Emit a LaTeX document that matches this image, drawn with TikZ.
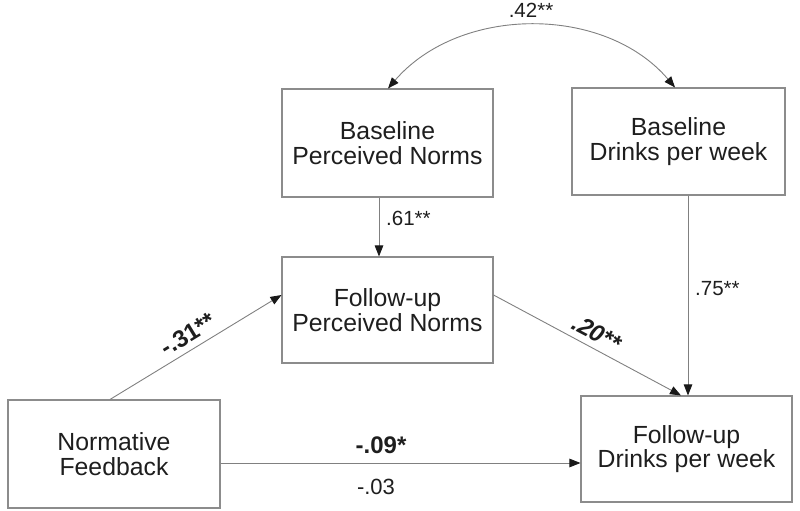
\documentclass[tikz,border=0pt]{standalone}
\usepackage{fontspec}
\setmainfont{Liberation Sans}
\usetikzlibrary{arrows.meta}
\definecolor{linegray}{RGB}{128,128,128}
\definecolor{boxgray}{RGB}{140,140,140}
\definecolor{txt}{RGB}{30,30,30}
\tikzset{
  box/.style={draw=boxgray, line width=1.1pt, rectangle, align=center, text=txt,
    font=\fontsize{24.8}{24.5}\selectfont, inner sep=0pt,
    execute at begin node=\rule{0pt}{26pt}},
  arr/.style={draw=linegray, line width=0.9pt, -{Triangle[length=11pt,width=8.5pt,color=black!90]}},
  darr/.style={draw=linegray, line width=0.9pt, {Triangle[length=11pt,width=8.5pt,color=black!90]}-{Triangle[length=11pt,width=8.5pt,color=black!90]}},
  lab/.style={text=txt, font=\fontsize{20.5}{21}\selectfont, inner sep=0pt},
  blab/.style={text=txt, font=\fontsize{24}{25}\selectfont\bfseries, inner sep=0pt}
}
\begin{document}
\begin{tikzpicture}[x=1pt,y=-1pt]
\useasboundingbox (0,0) rectangle (800,511);
\node[box, minimum width=211pt, minimum height=108pt] (bpn) at (387.5,143) {Baseline\\Perceived Norms};
\node[box, minimum width=213pt, minimum height=107pt] (bdw) at (678.5,141.5) {Baseline\\Drinks per week};
\node[box, minimum width=211pt, minimum height=106pt] (fpn) at (387.5,310) {Follow-up\\Perceived Norms};
\node[box, minimum width=212pt, minimum height=108pt] (nf) at (114,454) {Normative\\Feedback};
\node[box, minimum width=211pt, minimum height=106pt] (fdw) at (686.5,449) {Follow-up\\Drinks per week};

\draw[darr] ([xshift=0.5pt]bpn.north) .. controls (460,5) and (605,5) .. ([xshift=-3.5pt]bdw.north);
\draw[arr] ([xshift=-8.5pt]bpn.south) -- ([xshift=-8.5pt]fpn.north);
\draw[arr] ([xshift=9.5pt]bdw.south) -- ([xshift=1.5pt]fdw.north);
\draw[arr] ([xshift=-4pt]nf.north) -- ([yshift=15pt]fpn.west);
\draw[arr] ([yshift=15pt]fpn.east) -- ([xshift=-5.5pt]fdw.north);
\draw[arr] ([yshift=-9pt]nf.east) -- ([yshift=-9pt]nf.east -| fdw.west);

\node[lab, anchor=base] (l42) at (531,18) {.42**};
\node[lab, anchor=base west] (l61) at (386,225) {.61**};
\node[lab, anchor=base west] (l75) at (695,295) {.75**};
\node[blab, rotate=31.4] (l31) at (188,334) {-.31**};
\node[blab, rotate=-27.7] (l20) at (597,333) {\itshape .20**};
\node[blab, anchor=base] (l09) at (381,453) {-.09*};
\node[lab, font=\fontsize{22}{23}\selectfont, anchor=base] (l03) at (376,494) {-.03};
\end{tikzpicture}
\end{document}
